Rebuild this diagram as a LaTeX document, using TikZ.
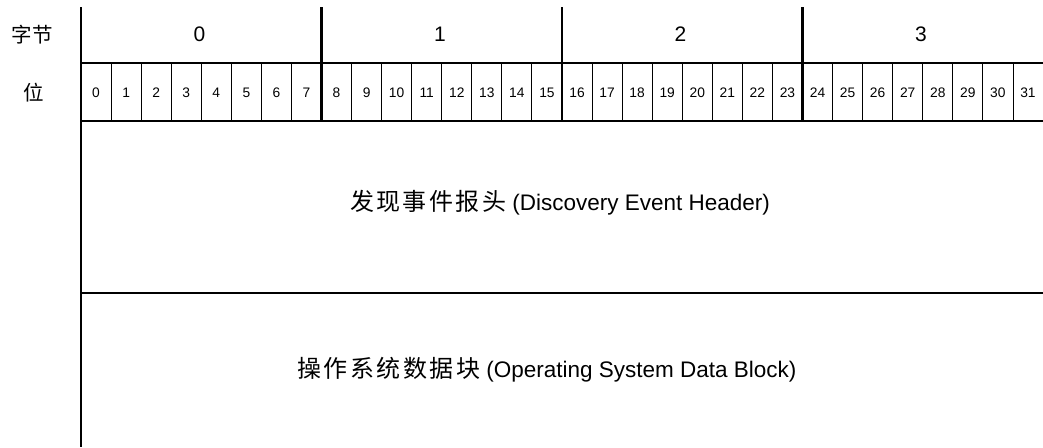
\documentclass[tikz,border=0pt]{standalone}
\usepackage{fontspec}
\setmainfont{Liberation Sans}
\newfontfamily\cjk{Noto Sans CJK SC}
\newfontfamily\cjkspaced[LetterSpace=10]{Noto Sans CJK SC}
\newcommand{\cjkbig}{\cjkspaced\fontsize{24}{28}\selectfont}
\begin{document}
\begin{tikzpicture}[x=1pt,y=-1pt,
  thickline/.style={line width=2.3pt},
  thinline/.style={line width=0.9pt},
  bytenum/.style={font=\fontsize{21}{24}\selectfont, inner sep=0pt},
  bitnum/.style={font=\fontsize{13.8}{16}\selectfont, inner sep=0pt},
  rowlabel/.style={font=\cjk\fontsize{20.5}{23}\selectfont, inner sep=0pt},
  fieldtext/.style={font=\fontsize{22.5}{26}\selectfont, inner sep=0pt}]
\useasboundingbox (0,0) rectangle (1043,447);
% anchor coordinates
\coordinate (top) at (81,7);
\coordinate (bot) at (81,447);
\coordinate (h1l) at (81,63);   \coordinate (h1r) at (1043,63);
\coordinate (h2l) at (81,121);  \coordinate (h2r) at (1043,121);
\coordinate (h3l) at (81,293);  \coordinate (h3r) at (1043,293);
% row labels
\node[rowlabel] (lbyte) at (32.5,35) {字节};
\node[rowlabel] (lbit) at (34,93) {位};
% bit dividers (thin)
\foreach \i in {1,...,31} {
  \pgfmathsetmacro{\xx}{81+30.0625*\i}
  \coordinate (bt\i) at (\xx,63);
  \coordinate (bb\i) at (\xx,121);
  \draw[thinline] (bt\i) -- (bb\i);
}
% byte dividers (thick)
\foreach \k in {1,2,3} {
  \pgfmathsetmacro{\xx}{81+240.5*\k}
  \coordinate (yt\k) at (\xx,7);
  \coordinate (yb\k) at (\xx,121);
  \draw[thickline] (yt\k) -- (yb\k);
}
% horizontal lines
\draw[thickline] (h1l) -- (h1r);
\draw[thickline] (h2l) -- (h2r);
\draw[thickline] (h3l) -- (h3r);
% left line
\draw[thickline] (top) -- (bot);
% byte numbers
\foreach \k in {0,1,2,3} {
  \pgfmathsetmacro{\xx}{81+240.5*\k+118.5}
  \node[bytenum] (byte\k) at (\xx,34) {\k};
}
% bit numbers
\foreach \i in {0,...,31} {
  \pgfmathsetmacro{\xx}{81+30.0625*\i+15.03}
  \node[bitnum] (bit\i) at (\xx,93) {\i};
}
% fields
\node[fieldtext] (header) at (560,203) {{\cjkbig 发现事件报头} (Discovery Event Header)};
\node[fieldtext] (osdata) at (547,370) {{\cjkbig 操作系统数据块} (Operating System Data Block)};
\end{tikzpicture}
\end{document}
